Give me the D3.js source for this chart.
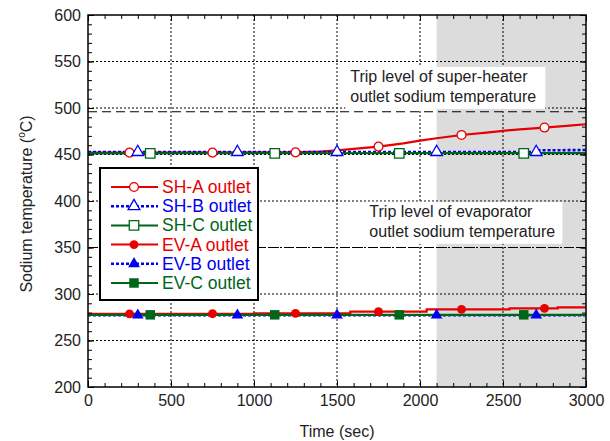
<!DOCTYPE html>
<html>
<head>
<meta charset="utf-8">
<title>Sodium temperature</title>
<script src="https://cdnjs.cloudflare.com/ajax/libs/d3/7.8.5/d3.min.js"></script>
<style>
  body { margin: 0; background: #fff; }
  text { font-family: "Liberation Sans", Arial, sans-serif; fill: #222; }
  .grid line { stroke: #000; stroke-width: 1; stroke-dasharray: 2,2; }
  .axis path, .axis line { stroke: #000; }
</style>
</head>
<body>
<div id="chart"></div>
<script>
// ---- data ----
var shaTime = [0, 1250, 1400, 1500, 1600, 1750, 1900, 2000, 2100, 2250, 2400, 2500, 2600, 2750, 2900, 3000];
var shaTemp = [452, 452.3, 453, 454.5, 456, 458.5, 462, 465, 467.5, 471, 473.5, 475.5, 477, 479, 481, 482.5];
var shbTime = [0, 2700, 2720, 3000];
var shbTemp = [452.6, 452.6, 454.5, 454.8];
var shcTime = [0, 3000];
var shcTemp = [451.3, 451.4];
var evaTime = [0, 1000, 1580, 2040, 2540, 2830, 3000];
var evaTemp = [278.6, 279.2, 281, 283.5, 284.6, 285.7, 285.7];
var evbTime = [0, 3000];
var evbTemp = [277.2, 277.2];
var evcTime = [0, 3000];
var evcTemp = [277.6, 277.6];

// marker positions
var shaMarkT = [250, 750, 1250, 1750, 2250, 2750];
var shaMarkV = [452, 452, 452.3, 458.5, 471, 479];
var shbMarkT = [300, 900, 1500, 2100, 2700];
var shbMarkV = [452.6, 452.6, 452.6, 452.6, 452.6];
var shcMarkT = [375, 1125, 1875, 2625];
var shcMarkV = [451.3, 451.3, 451.3, 451.3];
var evaMarkT = [250, 750, 1250, 1750, 2250, 2750];
var evaMarkV = [278.6, 278.8, 279.2, 281, 283.5, 284.6];
var evbMarkT = [300, 900, 1500, 2100, 2700];
var evbMarkV = [277.2, 277.2, 277.2, 277.2, 277.2];
var evcMarkT = [375, 1125, 1875, 2625];
var evcMarkV = [277.6, 277.6, 277.6, 277.6];

var xTicks = [0, 500, 1000, 1500, 2000, 2500, 3000];
var yTicks = [200, 250, 300, 350, 400, 450, 500, 550, 600];
var shadeFrom = 2100;
var tripSH = 496;
var tripEV = 350;

var red = "#e60000", blue = "#0000f0", green = "#00661a";

var series = [
  { name: "SH-A outlet", t: shaTime, v: shaTemp, mt: shaMarkT, mv: shaMarkV, color: red, dash: null, shape: d3.symbolCircle, filled: false },
  { name: "SH-B outlet", t: shbTime, v: shbTemp, mt: shbMarkT, mv: shbMarkV, color: blue, dash: "3,2", shape: d3.symbolTriangle, filled: false },
  { name: "SH-C outlet", t: shcTime, v: shcTemp, mt: shcMarkT, mv: shcMarkV, color: green, dash: null, shape: d3.symbolSquare, filled: false },
  { name: "EV-A outlet", t: evaTime, v: evaTemp, mt: evaMarkT, mv: evaMarkV, color: red, dash: null, shape: d3.symbolCircle, filled: true, step: true },
  { name: "EV-B outlet", t: evbTime, v: evbTemp, mt: evbMarkT, mv: evbMarkV, color: blue, dash: "3,2", shape: d3.symbolTriangle, filled: true },
  { name: "EV-C outlet", t: evcTime, v: evcTemp, mt: evcMarkT, mv: evcMarkV, color: green, dash: null, shape: d3.symbolSquare, filled: true }
];

var W = 610, H = 441;
var m = { left: 88, right: 24, top: 15, bottom: 54 };
var w = W - m.left - m.right, h = H - m.top - m.bottom;

var svg = d3.select("#chart").append("svg").attr("width", W).attr("height", H);
var g = svg.append("g").attr("transform", "translate(" + m.left + "," + m.top + ")");

var x = d3.scaleLinear().domain([0, 3000]).range([0, w]);
var y = d3.scaleLinear().domain([200, 600]).range([h, 0]);

// shaded region
g.append("rect")
  .attr("x", x(shadeFrom)).attr("y", 0)
  .attr("width", x(3000) - x(shadeFrom)).attr("height", h)
  .attr("fill", "#dcdcdc");

// grid
var grid = g.append("g").attr("class", "grid");
grid.selectAll(".gx").data(xTicks.slice(1, -1)).enter().append("line")
  .attr("x1", d => x(d)).attr("x2", d => x(d)).attr("y1", 0).attr("y2", h);
grid.selectAll(".gy").data(yTicks.slice(1, -1)).enter().append("line")
  .attr("y1", d => y(d)).attr("y2", d => y(d)).attr("x1", 0).attr("x2", w);

// trip levels
[tripSH, tripEV].forEach(function (v) {
  g.append("line")
    .attr("x1", 0).attr("x2", w).attr("y1", y(v)).attr("y2", y(v))
    .attr("stroke", "#000").attr("stroke-width", 1.1).attr("stroke-dasharray", "9,5");
});

// annotation boxes
function note(t0, v0, lines, boxW) {
  var bx = x(t0) - 5, by = y(v0) - 15;
  g.append("rect").attr("x", bx).attr("y", by).attr("width", boxW).attr("height", 42).attr("fill", "#fff");
  lines.forEach(function (s, i) {
    g.append("text").attr("x", x(t0)).attr("y", y(v0) + i * 20)
      .attr("font-size", 16).text(s);
  });
}
note(1580, 528, ["Trip level of super-heater", "outlet sodium temperature"], 200);
note(1695, 383, ["Trip level of evaporator", "outlet sodium temperature"], 198);

// lines
var line = d3.line().x(d => x(d[0])).y(d => y(d[1]));
series.forEach(function (s) {
  var pts = s.t.map((t, i) => [t, s.v[i]]);
  g.append("path")
    .datum(pts)
    .attr("d", s.step ? line.curve(d3.curveStepAfter)(pts) : line.curve(d3.curveLinear)(pts))
    .attr("fill", "none")
    .attr("stroke", s.color)
    .attr("stroke-width", s.dash ? 2.6 : 2.2)
    .attr("stroke-dasharray", s.dash);
});

function symSize(shape) {
  return shape === d3.symbolCircle ? 62 : shape === d3.symbolSquare ? 90 : 60;
}

series.forEach(function (s) {
  var sym = d3.symbol().type(s.shape).size(symSize(s.shape));
  g.selectAll(null).data(s.mt.map((t, i) => [t, s.mv[i]])).enter().append("path")
    .attr("d", sym)
    .attr("transform", d => "translate(" + x(d[0]) + "," + y(d[1]) + ")")
    .attr("fill", s.filled ? s.color : "#fff")
    .attr("stroke", s.color)
    .attr("stroke-width", s.filled ? 0 : 1.3);
});

// axes
var minorX = d3.range(0, 3001, 100);
var minorY = d3.range(200, 601, 10);

function fmt() { return ""; }
g.append("g").attr("class", "axis").attr("transform", "translate(0," + h + ")")
  .call(d3.axisBottom(x).tickValues(minorX).tickSize(-4).tickFormat(fmt))
  .call(a => a.select(".domain").remove());
g.append("g").attr("class", "axis")
  .call(d3.axisTop(x).tickValues(minorX).tickSize(-4).tickFormat(fmt))
  .call(a => a.select(".domain").remove());
g.append("g").attr("class", "axis")
  .call(d3.axisLeft(y).tickValues(minorY).tickSize(-4).tickFormat(fmt))
  .call(a => a.select(".domain").remove());
g.append("g").attr("class", "axis").attr("transform", "translate(" + w + ",0)")
  .call(d3.axisRight(y).tickValues(minorY).tickSize(-4).tickFormat(fmt))
  .call(a => a.select(".domain").remove());

var xAxis = g.append("g").attr("class", "axis").attr("transform", "translate(0," + h + ")")
  .call(d3.axisBottom(x).tickValues(xTicks).tickSize(-6).tickPadding(8).tickFormat(d3.format("d")));
xAxis.select(".domain").remove();
xAxis.selectAll("text").attr("font-size", 16).attr("font-family", "Liberation Sans, Arial, sans-serif").attr("fill", "#222");

var yAxis = g.append("g").attr("class", "axis")
  .call(d3.axisLeft(y).tickValues(yTicks).tickSize(-6).tickPadding(7).tickFormat(d3.format("d")));
yAxis.select(".domain").remove();
yAxis.selectAll("text").attr("font-size", 16).attr("font-family", "Liberation Sans, Arial, sans-serif").attr("fill", "#222");

g.append("g").attr("class", "axis").attr("transform", "translate(" + w + ",0)")
  .call(d3.axisRight(y).tickValues(yTicks).tickSize(-6).tickFormat(fmt))
  .call(a => a.select(".domain").remove());
g.append("g").attr("class", "axis")
  .call(d3.axisTop(x).tickValues(xTicks).tickSize(-6).tickFormat(fmt))
  .call(a => a.select(".domain").remove());

// frame
g.append("rect").attr("width", w).attr("height", h)
  .attr("fill", "none").attr("stroke", "#000").attr("stroke-width", 1.5);

// axis titles
svg.append("text")
  .attr("x", m.left + w / 2).attr("y", 437)
  .attr("text-anchor", "middle").attr("font-size", 16)
  .text("Time (sec)");

var yt = svg.append("text")
  .attr("transform", "translate(32,204) rotate(-90)")
  .attr("text-anchor", "middle").attr("font-size", 16);
yt.append("tspan").text("Sodium temperature (");
yt.append("tspan").attr("font-size", 10).attr("dy", -7).text("o");
yt.append("tspan").attr("dy", 7).text("C)");

// legend
var leg = svg.append("g").attr("transform", "translate(100,168)");
leg.append("rect").attr("width", 158).attr("height", 132)
  .attr("fill", "#fff").attr("stroke", "#000").attr("stroke-width", 2);
series.forEach(function (s, i) {
  var ly = 19 + i * 19.2;
  leg.append("line").attr("x1", 11).attr("x2", 58).attr("y1", ly).attr("y2", ly)
    .attr("stroke", s.color).attr("stroke-width", s.dash ? 2.6 : 2)
    .attr("stroke-dasharray", s.dash);
  leg.append("path")
    .attr("d", d3.symbol().type(s.shape).size(symSize(s.shape))())
    .attr("transform", "translate(34," + ly + ")")
    .attr("fill", s.filled ? s.color : "#fff")
    .attr("stroke", s.color).attr("stroke-width", s.filled ? 0 : 1.3);
  leg.append("text").attr("x", 62).attr("y", ly + 6)
    .attr("font-size", 17.5).style("fill", s.color).text(s.name);
});
</script>
</body>
</html>
